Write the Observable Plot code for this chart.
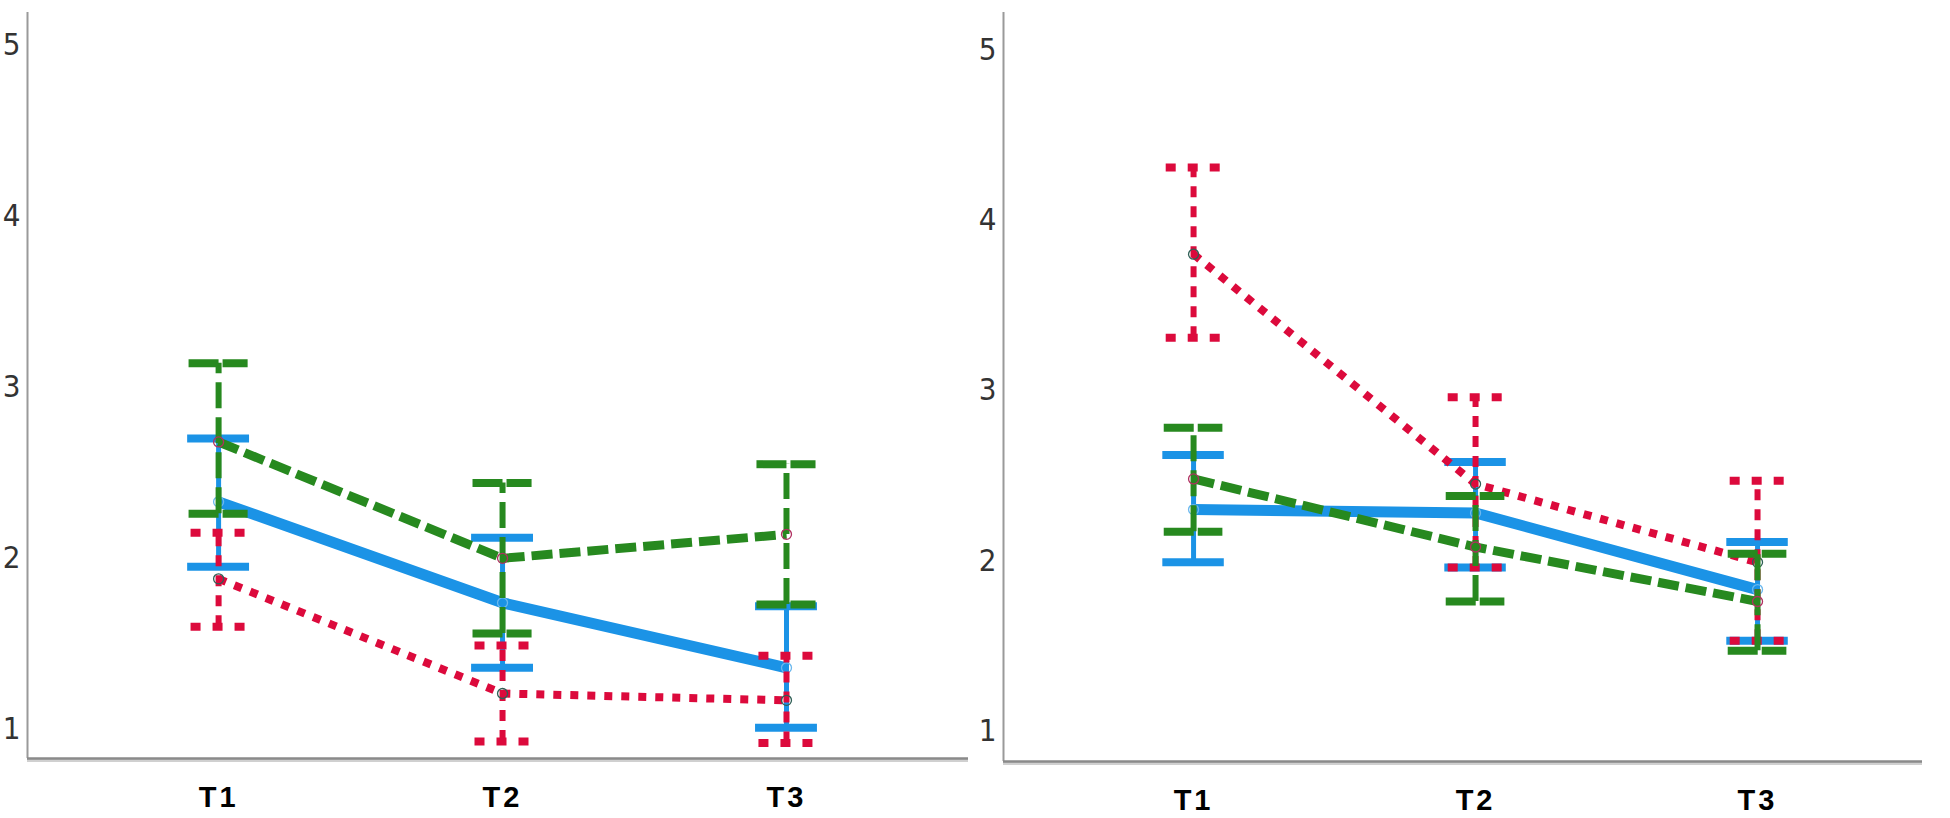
<!DOCTYPE html>
<html><head><meta charset="utf-8">
<script src="https://cdn.jsdelivr.net/npm/d3@7"></script>
<script src="https://cdn.jsdelivr.net/npm/@observablehq/plot@0.6"></script>
<style>
body{margin:0;background:#fff}
#wrap{display:flex;width:1950px;height:818px;overflow:hidden}
#wrap svg{overflow:visible}
[aria-label="x-axis tick label"] text{letter-spacing:3px}
</style>
</head><body><div id="wrap"></div>
<script>
const categories = ["T1", "T2", "T3"];
const yTicks = [1, 2, 3, 4, 5];

// Left panel
const blueMeanL  = [2.33, 1.74, 1.36];
const blueLowL   = [1.95, 1.36, 1.01];
const blueHighL  = [2.70, 2.12, 1.72];
const greenMeanL = [2.68, 2.00, 2.14];
const greenLowL  = [2.26, 1.56, 1.73];
const greenHighL = [3.14, 2.44, 2.55];
const redMeanL   = [1.88, 1.21, 1.17];
const redLowL    = [1.60, 0.93, 0.92];
const redHighL   = [2.15, 1.49, 1.43];

// Right panel
const blueMeanR  = [2.30, 2.28, 1.83];
const blueLowR   = [1.99, 1.96, 1.53];
const blueHighR  = [2.62, 2.58, 2.11];
const greenMeanR = [2.48, 2.08, 1.76];
const greenLowR  = [2.17, 1.76, 1.47];
const greenHighR = [2.78, 2.38, 2.04];
const redMeanR   = [3.80, 2.45, 1.99];
const redLowR    = [3.31, 1.96, 1.53];
const redHighR   = [4.31, 2.96, 2.47];

const BLUE = "#1b93e6", GREEN = "#27891f", RED = "#dc0a3c";

const styles = {
  blue:  {stroke: BLUE,  line: {w: 11, dash: null},   bar: {w: 5, dash: null},    cap: {w: 8, dash: null,   hw: 0.109}, ring: "#6bb8ee"},
  red:   {stroke: RED,   line: {w: 8,  dash: "8,9"},  bar: {w: 6, dash: "11,9"},  cap: {w: 8, dash: "10,12", hw: 0.097}, ring: "#2f5f55"},
  green: {stroke: GREEN, line: {w: 9,  dash: "21,7"}, bar: {w: 6, dash: "26,9"},  cap: {w: 8, dash: "30,4",  hw: 0.104}, ring: "#b03060"}
};

function rows(mean, low, high) {
  return categories.map((t, i) => ({t, i, mean: mean[i], low: low[i], high: high[i]}));
}

function seriesMarks(data, s) {
  const o = (w, dash) => ({stroke: s.stroke, strokeWidth: w, strokeLinecap: "butt", ...(dash ? {strokeDasharray: dash} : {})});
  return [
    Plot.ruleX(data, {x: "i", y1: "low", y2: "high", ...o(s.bar.w, s.bar.dash)}),
    Plot.ruleY(data, {y: "low", x1: d => d.i - s.cap.hw, x2: d => d.i + s.cap.hw, ...o(s.cap.w, s.cap.dash)}),
    Plot.ruleY(data, {y: "high", x1: d => d.i - s.cap.hw, x2: d => d.i + s.cap.hw, ...o(s.cap.w, s.cap.dash)}),
    Plot.line(data, {x: "i", y: "mean", strokeLinejoin: "round", ...o(s.line.w, s.line.dash)}),
    Plot.dot(data, {x: "i", y: "mean", r: 5, fill: "none", stroke: s.ring, strokeWidth: 1.3})
  ];
}

function panel({width, marginLeft, marginRight, marginBottom, xDomain, yDomain, blue, red, green}) {
  return Plot.plot({
    width, height: 818,
    marginLeft, marginRight, marginTop: 12, marginBottom,
    style: {background: "transparent", color: "#111"},
    x: {domain: xDomain, axis: null, label: null},
    y: {domain: yDomain, axis: null, label: null},
    marks: [
      Plot.ruleX([xDomain[0]], {stroke: "#9a9a9a", strokeWidth: 2}),
      Plot.ruleY([yDomain[0]], {stroke: "#d0d0d0", strokeWidth: 3, dy: 2}),
      Plot.ruleY([yDomain[0]], {stroke: "#8a8a8a", strokeWidth: 2.5}),
      Plot.axisY(yTicks, {tickSize: 0, tickPadding: 7, label: null, tickFormat: d => String(d), fontSize: 31, fontFamily: "Liberation Sans Narrow, DejaVu Sans Condensed, sans-serif", fill: "#333"}),
      Plot.axisX(categories.map((c, i) => i), {label: null, tickFormat: i => categories[i], tickSize: 0, tickPadding: 28, fontSize: 29, fontWeight: "bold", fontFamily: "Liberation Sans, Arial, sans-serif", fill: "#000"}),
      ...seriesMarks(blue, styles.blue),
      ...seriesMarks(red, styles.red),
      ...seriesMarks(green, styles.green)
    ]
  });
}

const wrap = document.getElementById("wrap");
wrap.append(panel({
  width: 985, marginLeft: 27, marginRight: 17, marginBottom: 60,
  xDomain: [-0.673, 2.641], yDomain: [0.83, 5.19],
  blue: rows(blueMeanL, blueLowL, blueHighL),
  red: rows(redMeanL, redLowL, redHighL),
  green: rows(greenMeanL, greenLowL, greenHighL)
}));
wrap.append(panel({
  width: 965, marginLeft: 18, marginRight: 28, marginBottom: 57,
  xDomain: [-0.674, 2.585], yDomain: [0.82, 5.22],
  blue: rows(blueMeanR, blueLowR, blueHighR),
  red: rows(redMeanR, redLowR, redHighR),
  green: rows(greenMeanR, greenLowR, greenHighR)
}));
</script>
</body></html>
